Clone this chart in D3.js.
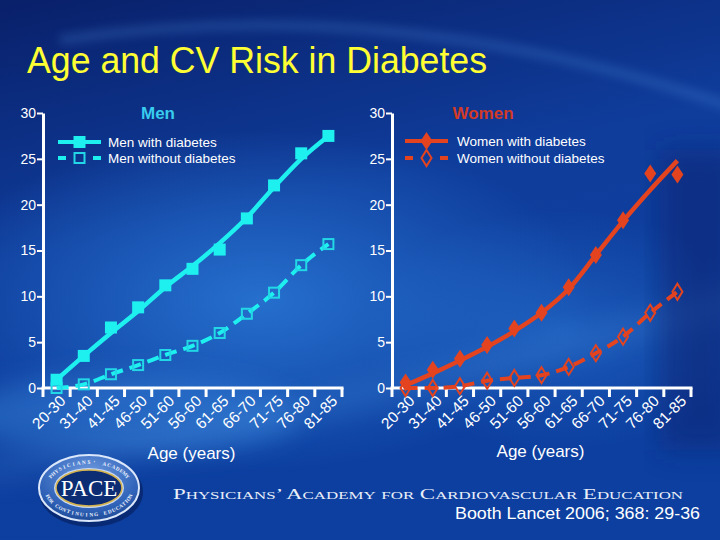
<!DOCTYPE html>
<html><head><meta charset="utf-8">
<script src="https://cdn.jsdelivr.net/npm/d3@7"></script>
<style>
html,body{margin:0;padding:0;background:#0b2a80;}
svg{display:block;font-family:Arial,"Liberation Sans",sans-serif;}
</style></head>
<body><svg id="chart" width="720" height="540"></svg>
<script>
// ---------------- data ----------------
const ages = ["20-30","31-40","41-45","46-50","51-60","56-60","61-65","66-70","71-75","76-80","81-85"];
const menWith      = [0.9, 3.5, 6.6, 8.8, 11.2, 13.0, 15.1, 18.5, 22.1, 25.6, 27.5];
const menWithout   = [0.0, 0.4, 1.5, 2.5, 3.6, 4.6, 6.0, 8.1, 10.4, 13.4, 15.7];
const menTrend     = [0.9, 3.5, 6.0, 8.4, 11.0, 13.3, 15.8, 18.6, 21.9, 25.0, 27.5];
const womenWith    = [0.6, 2.0, 3.2, 4.7, 6.5, 8.2, 11.0, 14.5, 18.3, 23.4, 23.3];
const womenWithout = [0.0, 0.0, 0.2, 0.8, 1.1, 1.4, 2.3, 3.8, 5.6, 8.2, 10.5];
const womenTrend   = [0.3, 1.6, 3.0, 4.5, 6.2, 8.2, 10.8, 14.5, 18.2, 21.6, 24.8];
const yTicks = [0, 5, 10, 15, 20, 25, 30];
const panels = [
  {title:"Men", withName:"Men with diabetes", withoutName:"Men without diabetes",
   withVals:menWith, withoutVals:menWithout, trend:menTrend, marker:"square"},
  {title:"Women", withName:"Women with diabetes", withoutName:"Women without diabetes",
   withVals:womenWith, withoutVals:womenWithout, trend:womenTrend, marker:"diamond"}
];
const mainTitle = "Age and CV Risk in Diabetes";
const xTitle = "Age (years)";
const citation = "Booth Lancet 2006; 368: 29-36";
const orgName = "Physicians’ Academy for Cardiovascular Education";
const logoText = "PACE";
const ringTop = "PHYSICIANS’ ACADEMY";
const ringBottom = "FOR CONTINUING EDUCATION";

// ---------------- background ----------------
const svg = d3.select("#chart");
const defs = svg.append("defs");
const bg = defs.append("linearGradient").attr("id","bg").attr("x1",0).attr("y1",0).attr("x2",0.3).attr("y2",1);
bg.append("stop").attr("offset",0).attr("stop-color","#09206a");
bg.append("stop").attr("offset",0.45).attr("stop-color","#0f3d9c");
bg.append("stop").attr("offset",1).attr("stop-color","#0c3fa0");
const rg = defs.append("radialGradient").attr("id","glow");
rg.append("stop").attr("offset",0).attr("stop-color","#2a78d6").attr("stop-opacity",0.85);
rg.append("stop").attr("offset",1).attr("stop-color","#2a78d6").attr("stop-opacity",0);
defs.append("filter").attr("id","blur").attr("x","-20%").attr("y","-50%").attr("width","140%").attr("height","200%")
  .append("feGaussianBlur").attr("stdDeviation",14);
defs.append("filter").attr("id","blur2").attr("x","-20%").attr("y","-50%").attr("width","140%").attr("height","200%")
  .append("feGaussianBlur").attr("stdDeviation",5);

svg.append("rect").attr("width",720).attr("height",540).attr("fill","url(#bg)");
svg.append("ellipse").attr("cx",260).attr("cy",300).attr("rx",330).attr("ry",170).attr("fill","url(#glow)");
svg.append("ellipse").attr("cx",560).attr("cy",330).attr("rx",200).attr("ry",120).attr("fill","url(#glow)").attr("opacity",0.6);
svg.append("ellipse").attr("cx",130).attr("cy",415).attr("rx",170).attr("ry",40).attr("fill","#3a8ae0").attr("opacity",0.45).attr("filter","url(#blur)");
svg.append("path").attr("d","M-20,470 Q300,420 740,300").attr("stroke","#5aa0ea").attr("stroke-width",22)
  .attr("fill","none").attr("opacity",0.22).attr("filter","url(#blur)");
svg.append("path").attr("d","M60,40 Q400,-10 740,110").attr("stroke","#4f8fdc").attr("stroke-width",10)
  .attr("fill","none").attr("opacity",0.25).attr("filter","url(#blur2)");
svg.append("rect").attr("x",660).attr("y",150).attr("width",80).attr("height",300).attr("fill","#07246e").attr("opacity",0.5).attr("filter","url(#blur)");

// ---------------- title ----------------
svg.append("text").attr("x",27).attr("y",73).attr("fill","#ffff33")
  .attr("font-size",36).attr("textLength",460).attr("lengthAdjust","spacingAndGlyphs").text(mainTitle);

// ---------------- panels ----------------
const y = d3.scaleLinear().domain([0,30]).range([388,113]);
const ranges = [[43,342],[392,691]];
const colors = [{main:"#1ef0f0", open:"#22d8e6", title:"#38ccee"},
                {main:"#e4431f", open:"#e4431f", title:"#d23a26"}];

panels.forEach((p,i)=>{
  const c = colors[i];
  const x = d3.scaleBand().domain(ages).range(ranges[i]).padding(0);
  const cx = d => x(d) + x.bandwidth()/2;
  const g = svg.append("g");

  // y axis
  const ya = g.append("g").attr("transform",`translate(${ranges[i][0]},0)`)
    .call(d3.axisLeft(y).tickValues(yTicks).tickSize(6).tickPadding(1).tickSizeOuter(0));
  ya.select(".domain").attr("stroke","#fff").attr("stroke-width",3);
  ya.selectAll(".tick line").attr("stroke","#fff").attr("stroke-width",2);
  ya.selectAll(".tick text").attr("fill","#fff").attr("font-size",14).attr("font-family","Arial,'Liberation Sans',sans-serif");

  // x axis (band boundaries)
  const bounds = ages.map(d=>x(d)).concat([ranges[i][1]]);
  g.append("line").attr("x1",ranges[i][0]-1.5).attr("x2",ranges[i][1]+1.5).attr("y1",y(0)).attr("y2",y(0))
    .attr("stroke","#fff").attr("stroke-width",3);
  g.selectAll(".xt").data(bounds).join("line").attr("class","xt")
    .attr("x1",d=>d).attr("x2",d=>d).attr("y1",y(0)).attr("y2",y(0)+9)
    .attr("stroke","#fff").attr("stroke-width",3);
  g.selectAll(".xl").data(ages).join("text").attr("class","xl")
    .attr("transform",d=>`translate(${cx(d)+10},${y(0)+14}) rotate(-45)`)
    .attr("text-anchor","end").attr("fill","#fff").attr("font-size",15.5).text(d=>d);
  g.append("text").attr("x",(ranges[i][0]+ranges[i][1])/2 - 1).attr("y",459-(i*2))
    .attr("text-anchor","middle").attr("fill","#fff").attr("font-size",17).text(xTitle);

  // panel title
  g.append("text").attr("x",i===0?158:483).attr("y",119).attr("text-anchor","middle")
    .attr("fill",c.title).attr("font-size",17).attr("font-weight","bold").text(p.title);

  // lines
  const withData = ages.map((a,k)=>({a, v:p.withVals[k]}));
  const withoutData = ages.map((a,k)=>({a, v:p.withoutVals[k]}));
  const trendData = ages.map((a,k)=>({a, v:p.trend[k]}));
  const line = d3.line().x(d=>cx(d.a)).y(d=>y(d.v)).curve(d3.curveMonotoneX);
  g.append("path").datum(withoutData).attr("d",line).attr("fill","none")
    .attr("stroke",c.main).attr("stroke-width",4).attr("stroke-dasharray","12,7");
  g.append("path").datum(trendData).attr("d",line).attr("fill","none")
    .attr("stroke",c.main).attr("stroke-width",4.5);

  // markers
  const drawFilled = (sel, mx, my) => {
    if (p.marker==="square") {
      sel.append("rect").attr("x",mx-6).attr("y",my-6).attr("width",12).attr("height",12).attr("fill",c.main);
    } else {
      sel.append("path").attr("d",`M${mx},${my-9}L${mx+6},${my}L${mx},${my+9}L${mx-6},${my}Z`).attr("fill",c.main);
    }
  };
  const drawOpen = (sel, mx, my) => {
    if (p.marker==="square") {
      sel.append("rect").attr("x",mx-5).attr("y",my-5).attr("width",10).attr("height",10)
        .attr("fill","none").attr("stroke",c.open).attr("stroke-width",2);
    } else {
      sel.append("path").attr("d",`M${mx},${my-8}L${mx+5},${my}L${mx},${my+8}L${mx-5},${my}Z`)
        .attr("fill","none").attr("stroke",c.open).attr("stroke-width",2);
    }
  };
  withoutData.forEach(d=>drawOpen(g, cx(d.a), y(d.v)));
  withData.forEach(d=>drawFilled(g, cx(d.a), y(d.v)));

  // legend
  const lx0 = i===0 ? 58 : 405, lx1 = i===0 ? 101 : 448, tx = i===0 ? 108 : 457;
  const ly1 = i===0 ? 142 : 141, ly2 = 158;
  const lm = (lx0+lx1)/2;
  g.append("line").attr("x1",lx0).attr("x2",lx1).attr("y1",ly1).attr("y2",ly1).attr("stroke",c.main).attr("stroke-width",4);
  drawFilled(g, lm, ly1);
  g.append("line").attr("x1",lx0).attr("x2",lx0+8).attr("y1",ly2).attr("y2",ly2).attr("stroke",c.main).attr("stroke-width",4);
  g.append("line").attr("x1",lx1-8).attr("x2",lx1).attr("y1",ly2).attr("y2",ly2).attr("stroke",c.main).attr("stroke-width",4);
  drawOpen(g, lm, ly2);
  g.append("text").attr("x",tx).attr("y",ly1+5).attr("fill","#fff").attr("font-size",13.5).text(p.withName);
  g.append("text").attr("x",tx).attr("y",ly2+5).attr("fill","#fff").attr("font-size",13.5).text(p.withoutName);
});

// ---------------- footer / logo ----------------
const logo = svg.append("g").attr("transform","translate(89,488)");
const lg = defs.append("radialGradient").attr("id","ring").attr("cx","50%").attr("cy","30%").attr("r","75%");
lg.append("stop").attr("offset",0).attr("stop-color","#6f9be0");
lg.append("stop").attr("offset",0.7).attr("stop-color","#2f62b8");
lg.append("stop").attr("offset",1).attr("stop-color","#1c468f");
logo.append("ellipse").attr("rx",52).attr("ry",35).attr("fill","#061a50").attr("opacity",0.55).attr("transform","translate(2,4)");
logo.append("ellipse").attr("rx",50).attr("ry",33).attr("fill","url(#ring)").attr("stroke","#dbe7fb").attr("stroke-width",2);
logo.append("ellipse").attr("rx",35).attr("ry",20).attr("fill","#c9d9f2");
logo.append("ellipse").attr("rx",33).attr("ry",18).attr("fill","#0c2c74").attr("stroke","#d4b24c").attr("stroke-width",1.5);
logo.append("text").attr("y",8).attr("text-anchor","middle").attr("fill","#fff")
  .attr("font-family","'Liberation Serif','DejaVu Serif',serif").attr("font-size",23).text(logoText);
function ringChars(str, t0, t1, rx, ry, top){
  const chars = str.split("");
  chars.forEach((ch,k)=>{
    if (ch===" ") return;
    const t = (t0 + (t1-t0)*(k+0.5)/chars.length) * Math.PI/180;
    const px = rx*Math.cos(t), py = ry*Math.sin(t);
    let ang;
    if (top) ang = Math.atan2(ry*Math.cos(t), -rx*Math.sin(t))*180/Math.PI;
    else ang = Math.atan2(-ry*Math.cos(t), rx*Math.sin(t))*180/Math.PI;
    logo.append("text").attr("transform",`translate(${px.toFixed(2)},${py.toFixed(2)}) rotate(${ang.toFixed(1)})`)
      .attr("text-anchor","middle").attr("fill","#eef4ff").attr("font-size",5.2).attr("font-weight","bold")
      .attr("font-family","'Liberation Serif',serif").text(ch);
  });
}
ringChars(ringTop, -158, -22, 41, 24, true);
ringChars(ringBottom, 165, 15, 45, 28.5, false);

svg.append("text").attr("x",173).attr("y",499).attr("fill","#e8eef8")
  .attr("font-family","'Liberation Serif','DejaVu Serif',serif").attr("font-size",15)
  .attr("font-variant","small-caps").attr("textLength",510).attr("lengthAdjust","spacingAndGlyphs").text(orgName);
svg.append("text").attr("x",455).attr("y",519).attr("fill","#fff").attr("font-size",17)
  .attr("textLength",245).attr("lengthAdjust","spacingAndGlyphs").text(citation);
</script></body></html>
